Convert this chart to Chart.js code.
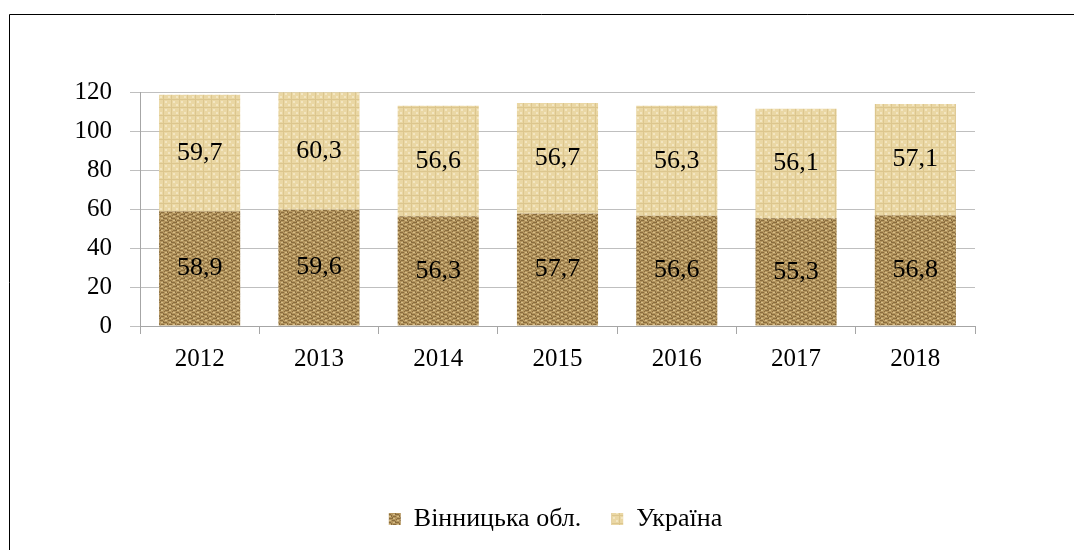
<!DOCTYPE html>
<html>
<head>
<meta charset="utf-8">
<script src="https://cdn.jsdelivr.net/npm/chart.js@4/dist/chart.umd.min.js"></script>
<style>
  html, body { margin: 0; padding: 0; background: #fff; }
  #wrap { width: 1074px; height: 550px; position: relative; }
</style>
</head>
<body>
<div id="wrap"><canvas id="c" width="1074" height="550"></canvas></div>
<script>
const years = ['2012', '2013', '2014', '2015', '2016', '2017', '2018'];
const vinnytsia = [58.9, 59.6, 56.3, 57.7, 56.6, 55.3, 56.8];
const ukraine = [59.7, 60.3, 56.6, 56.7, 56.3, 56.1, 57.1];
const yTicks = [0, 20, 40, 60, 80, 100, 120];
const seriesNames = ['Вінницька обл.', 'Україна'];

const SERIF = '"Liberation Serif", "Times New Roman", "DejaVu Serif", serif';
Chart.defaults.font.family = SERIF;
Chart.defaults.color = '#000';

function makePattern(base, dark, light, kind) {
  const p = document.createElement('canvas');
  p.width = 8; p.height = 8;
  const g = p.getContext('2d');
  g.fillStyle = base; g.fillRect(0, 0, 8, 8);
  if (kind === 'weave') {
    g.fillStyle = dark;
    g.fillRect(0, 0, 3, 1); g.fillRect(4, 2, 3, 1); g.fillRect(1, 4, 3, 1); g.fillRect(5, 6, 3, 1);
    g.fillRect(3, 1, 1, 2); g.fillRect(7, 3, 1, 2); g.fillRect(0, 5, 1, 2); g.fillRect(4, 7, 1, 1);
    g.fillStyle = light;
    g.fillRect(1, 2, 2, 1); g.fillRect(5, 0, 2, 1); g.fillRect(5, 4, 2, 1); g.fillRect(1, 6, 2, 1);
  } else {
    g.fillStyle = dark;
    g.fillRect(0, 3, 8, 1); g.fillRect(3, 0, 1, 8);
    g.fillStyle = light;
    g.fillRect(5, 5, 2, 2); g.fillRect(0, 0, 2, 2);
  }
  return g.createPattern(p, 'repeat');
}
const ctx0 = document.getElementById('c').getContext('2d');
const brown = makePattern('#B4955E', '#8A6D3E', '#D6BE88', 'weave');
const tan = makePattern('#EAD7A4', '#DCC68E', '#F3E6C2', 'soft');

const frame = {
  id: 'frame',
  beforeDraw(chart) {
    const c = chart.ctx;
    c.save();
    c.strokeStyle = '#000'; c.lineWidth = 1;
    c.beginPath();
    c.moveTo(9.5, 550); c.lineTo(9.5, 14.5); c.lineTo(1074, 14.5);
    c.stroke();
    c.restore();
  }
};

const legendShift = {
  id: 'legendShift',
  afterLayout(chart) {
    if (chart.legend) { chart.legend.left += 48; chart.legend.right += 48; }
  }
};

const valueLabels = {
  id: 'valueLabels',
  afterDatasetsDraw(chart) {
    const c = chart.ctx;
    c.save();
    c.font = '26px ' + SERIF;
    c.fillStyle = '#000';
    c.textAlign = 'center';
    c.textBaseline = 'middle';
    chart.data.datasets.forEach((ds, i) => {
      const meta = chart.getDatasetMeta(i);
      meta.data.forEach((el, j) => {
        const y = (el.y + el.base) / 2;
        c.fillText(String(ds.data[j]).replace('.', ','), el.x, y);
      });
    });
    c.restore();
  }
};

new Chart(ctx0, {
  type: 'bar',
  data: {
    labels: years,
    datasets: [
      { label: seriesNames[0], data: vinnytsia, backgroundColor: brown, borderWidth: 0 },
      { label: seriesNames[1], data: ukraine, backgroundColor: tan, borderWidth: 0 }
    ]
  },
  options: {
    responsive: false,
    animation: false,
    devicePixelRatio: 1,
    layout: { padding: { top: 92, left: 40, right: 99, bottom: 8 } },
    datasets: { bar: { categoryPercentage: 1, barPercentage: 0.68 } },
    scales: {
      x: {
        stacked: true,
        offset: true,
        grid: { display: true, drawOnChartArea: false, offset: true, color: '#A6A6A6', tickLength: 8 },
        border: { color: '#A6A6A6' },
        ticks: { color: '#000', font: { family: SERIF, size: 25 }, padding: 10, maxRotation: 0 },
        afterFit(s) { s.height = 150; }
      },
      y: {
        stacked: true,
        min: 0, max: 120,
        afterBuildTicks(s) { s.ticks = yTicks.map(v => ({ value: v })); },
        grid: { color: '#BFBFBF', tickLength: 10 },
        border: { color: '#A6A6A6' },
        ticks: { color: '#000', font: { family: SERIF, size: 25 }, padding: 18 },
        afterFit(s) { s.width = 100; }
      }
    },
    plugins: {
      legend: {
        position: 'bottom',
        labels: {
          color: '#000',
          font: { family: SERIF, size: 26 },
          boxWidth: 12, boxHeight: 12, padding: 30
        }
      },
      tooltip: { enabled: false }
    }
  },
  plugins: [frame, legendShift, valueLabels]
});
</script>
</body>
</html>
